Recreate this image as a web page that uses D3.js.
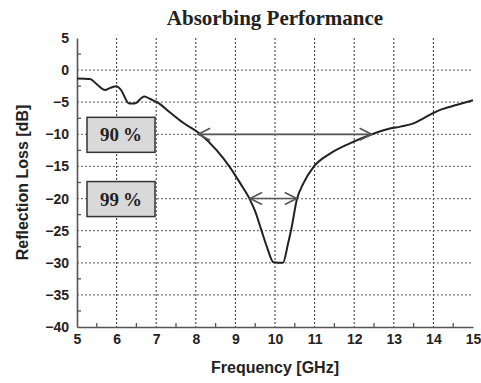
<!DOCTYPE html>
<html>
<head>
<meta charset="utf-8">
<script src="https://cdn.jsdelivr.net/npm/d3@7"></script>
<style>
  body { margin: 0; background: #fff; }
  svg { display: block; }
  .tick text { font-family: "Liberation Sans", Arial, sans-serif; font-weight: bold; font-size: 14px; fill: #222; }
</style>
</head>
<body>
<div id="chart"></div>
<script>
// frequency [GHz] and reflection loss [dB]
const freq = [5, 5.33, 5.5, 5.71, 5.83, 6.0, 6.1, 6.32, 6.45, 6.7, 6.85, 7.05, 7.35, 7.68, 8.1, 8.53, 8.86, 9.12,
  9.37, 9.5, 9.65, 9.8, 9.96, 10.2, 10.33, 10.42, 10.55, 10.72, 10.97, 11.39, 11.89, 12.4, 12.9,
  13.17, 13.5, 13.75, 14.17, 14.6, 15];
const loss = [-1.3, -1.4, -2.2, -3.1, -2.8, -2.5, -3.0, -5.2, -5.2, -4.1, -4.5, -5.1, -6.6, -8.2, -9.9, -12.5, -15.1, -17.6,
  -20.2, -22.0, -24.8, -27.6, -29.9, -30, -27, -24.5, -20.2, -17.6, -15.1, -13, -11.4, -10.1, -9.1,
  -8.8, -8.3, -7.5, -6.2, -5.4, -4.7];

// bandwidth markers
const bandLabels = ["90\u2009%", "99\u2009%"];
const bandLevel = [-10, -20];
const bandStart = [8.06, 9.37];
const bandEnd = [12.44, 10.55];

const xTicks = d3.range(5, 16, 1);
const yTicks = d3.range(5, -41, -5);

const W = 481, H = 383;
const margin = { top: 38, right: 8, bottom: 56, left: 77 };
const width = 396, height = 289;

const svg = d3.select('#chart').append('svg')
  .attr('width', W)
  .attr('height', H);

const g = svg.append('g')
  .attr('transform', 'translate(' + margin.left + ',' + margin.top + ')');

const x = d3.scaleLinear().domain([5, 15]).range([0, width]);
const y = d3.scaleLinear().domain([-40, 5]).range([height, 0]);

// grid
g.selectAll('line.vgrid')
  .data(xTicks.filter(d => d > 5 && d < 15))
  .enter().append('line')
  .attr('class', 'vgrid')
  .attr('x1', d => x(d)).attr('x2', d => x(d))
  .attr('y1', 0).attr('y2', height)
  .attr('stroke', '#333')
  .attr('stroke-width', 1)
  .attr('stroke-dasharray', '2,2');

g.selectAll('line.hgrid')
  .data(yTicks.filter(d => d < 5 && d > -40))
  .enter().append('line')
  .attr('class', 'hgrid')
  .attr('x1', 0).attr('x2', width)
  .attr('y1', d => y(d)).attr('y2', d => y(d))
  .attr('stroke', '#777')
  .attr('stroke-width', 1.3)
  .attr('stroke-dasharray', '2,2');

// axes
const xAxis = g.append('g')
  .attr('transform', 'translate(0,' + height + ')')
  .call(d3.axisBottom(x).tickValues(xTicks).tickSize(0).tickPadding(7).tickFormat(d3.format('d')));
const yAxis = g.append('g')
  .call(d3.axisLeft(y).tickValues(yTicks).tickSize(0).tickPadding(8).tickFormat(d3.format('d')));
[xAxis, yAxis].forEach(a => {
  a.select('.domain').attr('stroke', '#555').attr('stroke-width', 1.6);
});

// minor ticks, pointing inward
g.selectAll('line.xminor')
  .data(d3.range(5.5, 15, 1))
  .enter().append('line')
  .attr('x1', d => x(d)).attr('x2', d => x(d))
  .attr('y1', height).attr('y2', height - 4)
  .attr('stroke', '#555').attr('stroke-width', 1.3);
g.selectAll('line.yminor')
  .data(d3.range(2.5, -40, -5))
  .enter().append('line')
  .attr('x1', 0).attr('x2', 4)
  .attr('y1', d => y(d)).attr('y2', d => y(d))
  .attr('stroke', '#555').attr('stroke-width', 1.3);

// curve
const line = d3.line()
  .x((d, i) => x(freq[i]))
  .y(d => y(d))
  .curve(d3.curveMonotoneX);

g.append('path')
  .datum(loss)
  .attr('fill', 'none')
  .attr('stroke', '#222')
  .attr('stroke-width', 2)
  .attr('stroke-linejoin', 'round')
  .attr('d', line);

// double arrows
const arrows = g.selectAll('g.arrow')
  .data(bandLevel)
  .enter().append('g')
  .attr('class', 'arrow');

arrows.append('line')
  .attr('x1', (d, i) => x(bandStart[i]))
  .attr('x2', (d, i) => x(bandEnd[i]))
  .attr('y1', d => y(d)).attr('y2', d => y(d))
  .attr('stroke', '#555').attr('stroke-width', 1.6);

arrows.append('path')
  .attr('fill', 'none')
  .attr('stroke', '#555').attr('stroke-width', 1.6)
  .attr('d', (d, i) => {
    const a = x(bandStart[i]), b = x(bandEnd[i]), c = y(d);
    return 'M' + (a + 12) + ',' + (c - 6) + 'L' + a + ',' + c + 'L' + (a + 12) + ',' + (c + 6) +
      'M' + (b - 12) + ',' + (c - 6) + 'L' + b + ',' + c + 'L' + (b - 12) + ',' + (c + 6);
  });

// label boxes
const boxes = svg.selectAll('g.box')
  .data(bandLabels)
  .enter().append('g')
  .attr('class', 'box')
  .attr('transform', (d, i) => 'translate(87,' + (margin.top + y(bandLevel[i]) - 17) + ')');

boxes.append('rect')
  .attr('width', 68).attr('height', 35)
  .attr('fill', '#d9d9d9')
  .attr('stroke', '#333').attr('stroke-width', 1.5);

boxes.append('text')
  .attr('x', 34).attr('y', 24)
  .attr('text-anchor', 'middle')
  .style('font-family', '"Liberation Serif", "Times New Roman", serif')
  .style('font-weight', 'bold')
  .style('font-size', '19px')
  .attr('fill', '#222')
  .text(d => d);

// title and axis labels
svg.append('text')
  .attr('x', margin.left + width / 2).attr('y', 25)
  .attr('text-anchor', 'middle')
  .style('font-family', '"Liberation Serif", "Times New Roman", serif')
  .style('font-weight', 'bold')
  .style('font-size', '21px')
  .attr('fill', '#222')
  .text('Absorbing Performance');

svg.append('text')
  .attr('x', margin.left + width / 2).attr('y', 373)
  .attr('text-anchor', 'middle')
  .style('font-family', '"Liberation Sans", Arial, sans-serif')
  .style('font-weight', 'bold')
  .style('font-size', '16px')
  .attr('fill', '#222')
  .text('Frequency [GHz]');

svg.append('text')
  .attr('transform', 'translate(28,' + (margin.top + y(-17.5)) + ')rotate(-90)')
  .attr('text-anchor', 'middle')
  .style('font-family', '"Liberation Sans", Arial, sans-serif')
  .style('font-weight', 'bold')
  .style('font-size', '16px')
  .attr('fill', '#222')
  .text('Reflection Loss [dB]');
</script>
</body>
</html>
